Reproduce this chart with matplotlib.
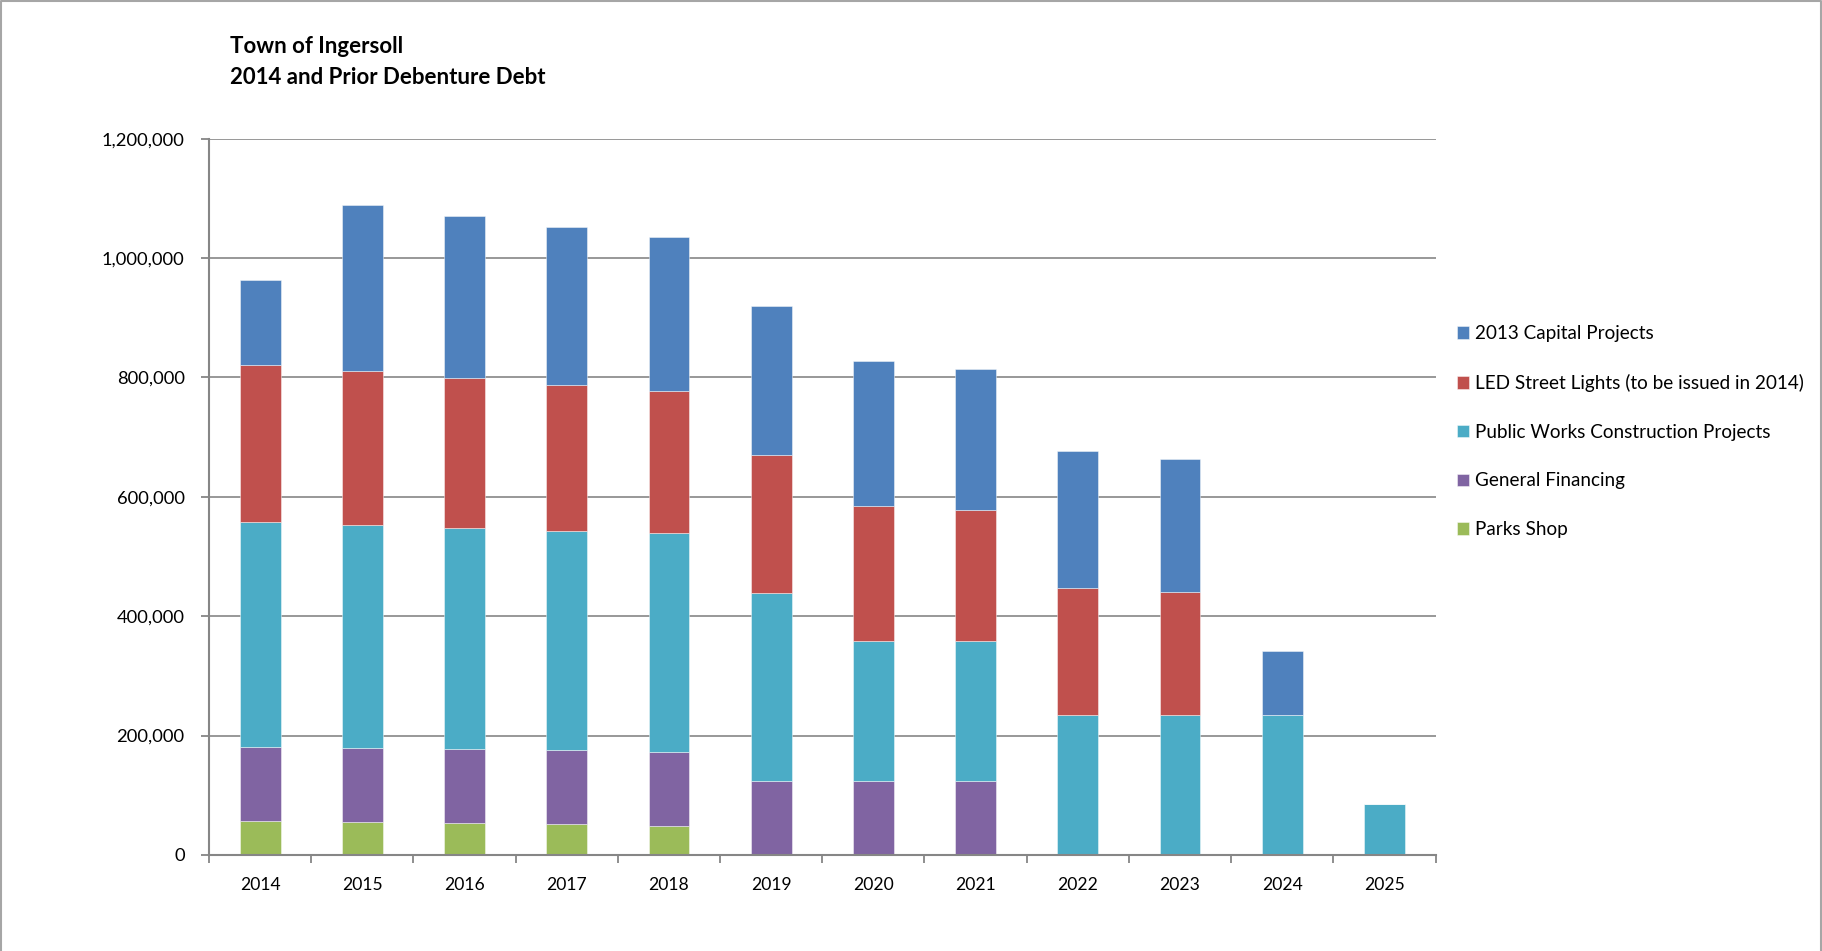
import matplotlib
matplotlib.use("Agg")
import matplotlib.pyplot as plt
from matplotlib.lines import Line2D
from matplotlib.ticker import FuncFormatter, MultipleLocator
import numpy as np

plt.rcParams['font.family'] = ['Lato', 'DejaVu Sans']

years = ['2014', '2015', '2016', '2017', '2018', '2019', '2020',
         '2021', '2022', '2023', '2024', '2025']

# Annual debenture debt by component (stacked bottom to top)
parks_shop = [57000, 55000, 53400, 51100, 48300, 0, 0, 0, 0, 0, 0, 0]
general_financing = [124000, 124300, 124400, 124400, 124400, 124000, 124000,
                     124000, 0, 0, 0, 0]
public_works = [377000, 373400, 370600, 367800, 366200, 314500, 235000,
                235000, 234100, 234100, 234500, 86000]
led_street_lights = [263000, 257300, 251100, 244500, 238300, 231800, 225400,
                     219500, 212800, 206600, 0, 0]
capital_2013 = [141500, 278400, 271100, 264900, 258100, 249700, 242900,
                235500, 229500, 222900, 107900, 0]

series = [
    ('Parks Shop', parks_shop, '#9BBB59'),
    ('General Financing', general_financing, '#8064A2'),
    ('Public Works Construction Projects', public_works, '#4BACC6'),
    ('LED Street Lights (to be issued in 2014)', led_street_lights, '#C0504D'),
    ('2013 Capital Projects', capital_2013, '#4F81BD'),
]

fig = plt.figure(figsize=(18.22, 9.51), dpi=100)
ax = fig.add_axes([0.1147, 0.1010, 0.6732, 0.7532])

x = np.arange(len(years))
bottom = np.zeros(len(years))
handles = []
for label, vals, color in series:
    vals = np.array(vals, dtype=float)
    bars = ax.bar(x, vals, width=0.40, bottom=bottom, color=color,
                  edgecolor=(1, 1, 1, 0.45), linewidth=0.7, label=label,
                  zorder=3)
    handles.append(bars)
    bottom += vals

grid_color = '#868686'
ax.set_xlim(-0.5, len(years) - 0.5)
ax.set_ylim(0, 1200000)
ax.yaxis.set_major_locator(MultipleLocator(200000))
ax.yaxis.set_major_formatter(FuncFormatter(lambda v, p: f"{int(v):,}"))
ax.grid(axis='y', color=grid_color, linewidth=1.2, zorder=0)
ax.set_axisbelow(True)

for s in ['top', 'right']:
    ax.spines[s].set_visible(False)
for s in ['left', 'bottom']:
    ax.spines[s].set_color(grid_color)
    ax.spines[s].set_linewidth(1.5)
    ax.spines[s].set_zorder(4)

# Category labels centred under bars, tick marks on category boundaries
ax.set_xticks(x)
ax.set_xticklabels(years)
ax.set_xticks(np.arange(len(years) + 1) - 0.5, minor=True)
ax.tick_params(axis='x', which='major', length=0, pad=15.8, labelsize=12.6,
               labelcolor='#000000')
ax.tick_params(axis='x', which='minor', length=6, width=1.3, color=grid_color,
               direction='out')
ax.tick_params(axis='y', length=6, width=1.3, color=grid_color, pad=11.5,
               labelsize=13.2, labelcolor='#000000')

fig.text(0.1262, 0.951, 'Town of Ingersoll', fontsize=16, fontweight='bold',
         va='center', ha='left')
fig.text(0.1262, 0.919, '2014 and Prior Debenture Debt', fontsize=16,
         fontweight='bold', va='center', ha='left')

leg = fig.legend(handles[::-1], [s[0] for s in series[::-1]],
                 loc='upper left', bbox_to_anchor=(0.7955, 0.666),
                 frameon=False, fontsize=13.6, handlelength=0.64,
                 handleheight=0.64, handletextpad=0.3, labelspacing=1.68,
                 borderaxespad=0)

# Outer chart border (left, top, right)
border = Line2D([0.0008, 0.0008, 0.9992, 0.9992], [0.0, 0.9985, 0.9985, 0.0],
                transform=fig.transFigure, color='#a6a6a6', linewidth=1.5)
fig.add_artist(border)

fig.savefig('out.png', dpi=100, facecolor='white')
